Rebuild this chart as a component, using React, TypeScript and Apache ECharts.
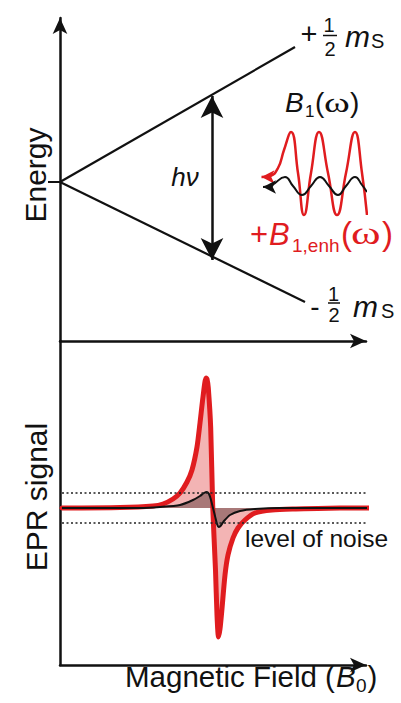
import React, { useEffect, useRef } from 'react';
import * as echarts from 'echarts';

// ---- Top panel (energy levels), x: field, y: energy (origin at the crossing) ----
const energyUpper = [[0, 0], [235, 135]];
const energyLower = [[0, 0], [245, -120]];
const transition = [[152, 86], [152, -78]];
// microwave field waves (enhanced, red) and plain (black)
const b1EnhWave = [
  [201.5, 5], [210, 6], [218, 14], [224, 32], [231, 50], [238, 9], [244, -33], [251, 9],
  [259, 50], [268, 9], [277, -33], [286, 9], [295, 50], [302, 9], [307, -33],
];
const b1Wave = [
  [203, -5], [212, -3], [225, 5], [233, -4], [242, -13], [251, -4], [260, 5], [269, -4],
  [278, -13], [286, -4], [295, 5], [302, -3], [307, -10],
];

// ---- Bottom panel (EPR derivative signal) ----
const eprEnhanced = [
  [2, 0], [60, 0.5], [93, 2], [103, 4], [113, 9], [120, 15], [127, 26], [132, 38], [137, 61],
  [140, 85], [143, 111], [146, 130], [147, 129], [148.3, 120], [150.7, 80], [152.7, 2],
  [155.5, -62], [157, -107], [158.5, -129], [160, -121], [161.7, -104], [165, -67], [168, -47],
  [173, -30], [178, -20], [185, -12], [195, -5], [212, -2], [235, -1], [280, 0], [318, 0],
];
const eprPlain = [
  [2, 0], [80, 0], [100, 1], [120, 3], [133, 8], [140, 12], [144, 15], [147, 16], [149, 14],
  [151, 8], [153, 0], [155, -8], [157, -16], [158.5, -19], [160.5, -18], [164, -13], [170, -7],
  [180, -3], [195, -1], [220, 0], [318, 0],
];
const noiseLevels = [15, -15];
const noiseSpan = [2, 317];

const RED = '#e01c1f';
const INK = '#111111';
const FONT = '"Liberation Sans", Arial, sans-serif';
const SERIF = '"Liberation Serif", "DejaVu Serif", serif';

type TOpts = { italic?: boolean; color?: string; align?: string; family?: string; rotation?: number; sx?: number };
const txt = (text: string, x: number, y: number, size: number, o: TOpts = {}) => ({
  type: 'text',
  x,
  y,
  rotation: o.rotation || 0,
  scaleX: o.sx || 1,
  silent: true,
  z: 10,
  style: {
    text,
    fontSize: size,
    fontFamily: o.family || FONT,
    fontStyle: o.italic ? 'italic' : 'normal',
    fill: o.color || INK,
    align: o.align || 'left',
    verticalAlign: 'middle',
  },
});
const bar = (x1: number, x2: number, y: number) => ({
  type: 'line',
  silent: true,
  z: 10,
  shape: { x1, y1: y, x2, y2: y },
  style: { stroke: INK, lineWidth: 1.5 },
});

export default function App() {
  const ref = useRef<HTMLDivElement>(null);
  useEffect(() => {
    document.body.style.margin = '0';
    const chart = echarts.init(ref.current as HTMLDivElement, null, { renderer: 'svg' });
    const axisLineStyle = { color: INK, width: 2.5 };
    const option: any = {
      animation: false,
      backgroundColor: '#ffffff',
      grid: [
        { left: 60, right: 35, top: 18, bottom: 362 },
        { left: 60, right: 35, top: 341, bottom: 38 },
      ],
      xAxis: [
        {
          type: 'value', gridIndex: 0, min: 0, max: 306,
          axisLine: { onZero: false, lineStyle: axisLineStyle, symbol: ['none', 'arrow'], symbolSize: [11, 16] },
          axisTick: { show: false }, axisLabel: { show: false }, splitLine: { show: false },
        },
        {
          type: 'value', gridIndex: 1, min: 0, max: 306,
          axisLine: { onZero: false, lineStyle: axisLineStyle, symbol: ['none', 'arrow'], symbolSize: [11, 16] },
          axisTick: { show: false }, axisLabel: { show: false }, splitLine: { show: false },
        },
      ],
      yAxis: [
        {
          type: 'value', gridIndex: 0, min: -159, max: 164,
          axisLine: { onZero: false, lineStyle: axisLineStyle, symbol: ['none', 'arrow'], symbolSize: [11, 16] },
          axisTick: { show: true, customValues: [0], length: 12, lineStyle: { color: INK, width: 2 } },
          axisLabel: { show: false }, splitLine: { show: false },
        },
        {
          type: 'value', gridIndex: 1, min: -157, max: 167,
          axisLine: { onZero: false, lineStyle: axisLineStyle },
          axisTick: { show: false }, axisLabel: { show: false }, splitLine: { show: false },
        },
      ],
      series: [
        {
          type: 'line', xAxisIndex: 0, yAxisIndex: 0, data: energyUpper, symbol: 'none',
          lineStyle: { color: INK, width: 2.2 }, silent: true,
          markLine: {
            silent: true, symbol: ['arrow', 'arrow'], symbolSize: [17, 22],
            label: { show: false },
            lineStyle: { color: INK, width: 2.5, type: 'solid' },
            data: [[{ coord: transition[0] }, { coord: transition[1] }]],
          },
        },
        {
          type: 'line', xAxisIndex: 0, yAxisIndex: 0, data: energyLower, symbol: 'none',
          lineStyle: { color: INK, width: 2.2 }, silent: true,
        },
        {
          type: 'line', xAxisIndex: 0, yAxisIndex: 0, clip: false, smooth: 0.5, silent: true,
          data: b1EnhWave.map((p, i) => (i === 0
            ? { value: p, symbol: 'arrow', symbolSize: [10, 13], symbolRotate: 90, itemStyle: { color: RED } }
            : { value: p, symbol: 'none' })),
          showSymbol: true,
          lineStyle: { color: RED, width: 2.5 },
          itemStyle: { color: RED },
        },
        {
          type: 'line', xAxisIndex: 0, yAxisIndex: 0, clip: false, smooth: 0.5, silent: true,
          data: b1Wave.map((p, i) => (i === 0
            ? { value: p, symbol: 'arrow', symbolSize: [10, 13], symbolRotate: 90, itemStyle: { color: INK } }
            : { value: p, symbol: 'none' })),
          showSymbol: true,
          lineStyle: { color: INK, width: 2 },
          itemStyle: { color: INK },
        },
        {
          type: 'line', xAxisIndex: 1, yAxisIndex: 1, clip: false, smooth: 0.25,
          silent: true, symbol: 'none', data: eprEnhanced,
          lineStyle: { color: RED, width: 5, cap: 'round', join: 'round' },
          areaStyle: { color: '#f3b4b4', opacity: 1, origin: 0 },
        },
        {
          type: 'line', xAxisIndex: 1, yAxisIndex: 1, clip: false, smooth: 0.25,
          silent: true, symbol: 'none', data: eprPlain,
          lineStyle: { color: INK, width: 2 },
          areaStyle: { color: '#a87878', opacity: 1, origin: 0 },
        },
        ...noiseLevels.map((lv) => ({
          type: 'line', xAxisIndex: 1, yAxisIndex: 1, clip: false, silent: true, symbol: 'none',
          data: [[noiseSpan[0], lv], [noiseSpan[1], lv]],
          lineStyle: { color: '#222', width: 1.3, type: [2, 2.5] },
        })),
      ],
      graphic: [
        txt('Energy', 35, 175, 30, { align: 'center', rotation: Math.PI / 2 }),
        txt('EPR signal', 36, 497, 30, { align: 'center', rotation: Math.PI / 2 }),
        txt('hν', 185, 177, 26, { italic: true, align: 'center' }),
        // +1/2 mS
        txt('+', 309, 34, 29, { align: 'center' }),
        txt('1', 329, 25, 20, { align: 'center' }),
        bar(323, 337, 35.5),
        txt('2', 330, 48.5, 20, { align: 'center' }),
        txt('m', 345, 36.6, 30, { italic: true }),
        txt('S', 371, 40.5, 20),
        // -1/2 mS
        txt('-', 315, 306, 28, { align: 'center' }),
        txt('1', 333.5, 293.5, 20, { align: 'center' }),
        bar(328, 340, 303),
        txt('2', 334, 314.5, 20, { align: 'center' }),
        txt('m', 353, 306.6, 30, { italic: true }),
        txt('S', 381, 310.5, 20),
        // B1(ω)
        txt('B', 285, 102.3, 28, { italic: true }),
        txt('1', 305, 111, 17),
        txt('(', 315, 102.3, 28),
        txt('ω', 324, 102.3, 28, { family: SERIF, sx: 1.4 }),
        txt(')', 350, 102.3, 28),
        // +B1,enh(ω)
        txt('+', 250, 234.3, 31, { color: RED }),
        txt('B', 269, 234.3, 31, { italic: true, color: RED }),
        txt('1,enh', 292, 245.9, 19, { color: RED }),
        txt('(', 341, 233.6, 33, { color: RED }),
        txt('ω', 351, 233.6, 31, { color: RED, family: SERIF, sx: 1.45 }),
        txt(')', 382, 233.6, 33, { color: RED }),
        // noise label
        txt('level of noise', 245, 538, 24.5),
        // x-axis title
        txt('Magnetic Field (', 125, 676.6, 29.5),
        txt('B', 336, 676.6, 29.5, { italic: true }),
        txt('0', 356, 685, 19),
        txt(')', 367.5, 676.6, 29.5),
      ],
    };
    chart.setOption(option);
    return () => chart.dispose();
  }, []);
  return (
    <div
      ref={ref}
      style={{ position: 'absolute', left: 0, top: 0, width: 401, height: 703, background: '#fff' }}
    />
  );
}
